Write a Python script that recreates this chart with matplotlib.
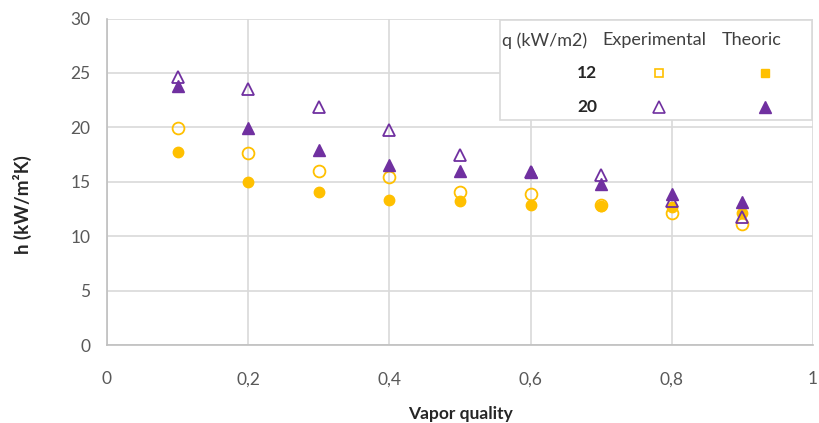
import numpy as np
import matplotlib
matplotlib.use('Agg')
import matplotlib.pyplot as plt
from matplotlib.patches import Rectangle

plt.rcParams['font.family'] = ['Lato', 'DejaVu Sans']

# data
quality = [0.1, 0.2, 0.3, 0.4, 0.5, 0.6, 0.7, 0.8, 0.9]
exp12 = [19.9, 17.6, 16.0, 15.4, 14.1, 13.9, 12.9, 12.1, 11.1]
theo12 = [17.7, 15.0, 14.1, 13.3, 13.2, 12.9, 12.8, 12.7, 12.1]
exp20 = [24.6, 23.5, 21.9, 19.8, 17.5, 15.9, 15.6, 13.2, 11.8]
theo20 = [23.8, 19.9, 17.9, 16.5, 16.0, 15.9, 14.8, 13.9, 13.1]

xticks = [0, 0.2, 0.4, 0.6, 0.8, 1]
xticklabels = ['0', '0,2', '0,4', '0,6', '0,8', '1']
yticks = [0, 5, 10, 15, 20, 25, 30]

orange = '#FFC000'
purple = '#7030A0'
grid_c = '#D9D9D9'
txt_c = '#595959'
dark = '#262626'

fig = plt.figure(figsize=(8.2, 4.23), dpi=100)
ax = fig.add_axes([107/820, 1-345/423, 706/820, (345-18.5)/423])

ax.plot(quality, exp12, linestyle='none', marker='o', markersize=8.5,
        markerfacecolor='none', markeredgecolor=orange, markeredgewidth=1.3, zorder=3)
ax.plot(quality, theo12, linestyle='none', marker='o', markersize=7.5,
        markerfacecolor=orange, markeredgecolor=orange, zorder=3)
ax.plot(quality, exp20, linestyle='none', marker='^', markersize=9,
        markerfacecolor='none', markeredgecolor=purple, markeredgewidth=1.3, zorder=4)
ax.plot(quality, theo20, linestyle='none', marker='^', markersize=9,
        markerfacecolor=purple, markeredgecolor=purple, zorder=4)

ax.set_xlim(0, 1)
ax.set_ylim(0, 30)
ax.set_xticks(xticks)
ax.set_xticklabels(xticklabels)
ax.set_yticks(yticks)
ax.tick_params(length=0, labelsize=12.5, colors=txt_c)
ax.tick_params(axis='x', pad=19)
ax.tick_params(axis='y', pad=12)
ax.grid(True, color=grid_c, linewidth=1.2)
ax.set_axisbelow(True)
for s in ['top', 'right']:
    ax.spines[s].set_visible(False)
for s in ['left', 'bottom']:
    ax.spines[s].set_color('#BFBFBF')
    ax.spines[s].set_linewidth(1.2)

ax.set_xlabel('Vapor quality', fontsize=12.5, fontweight='bold', color=dark)
ax.xaxis.label.set_va('center')
ax.xaxis.set_label_coords(0.5, (345-414)/326.5)
ax.set_ylabel('h (kW/m\u00b2K)', fontsize=13.5, fontweight='bold', color=dark)
ax.yaxis.label.set_va('center')
ax.yaxis.set_label_coords((22-107)/706, (345-205)/326.5)

# legend table in the upper right
ax.add_patch(Rectangle((0.557, 0.69), 0.442, 0.305, transform=ax.transAxes,
                       facecolor='white', edgecolor=grid_c, linewidth=1.2, zorder=5))
head_kw = dict(transform=ax.transAxes, fontsize=13, color='#404040', va='center', zorder=6)
ax.text(0.559, 0.933, 'q (kW/m2)', **head_kw)
ax.text(0.702, 0.933, 'Experimental', **head_kw)
ax.text(0.871, 0.933, 'Theoric', **head_kw)
ax.text(0.694, 0.833, '12', transform=ax.transAxes, fontsize=12.5, fontweight='bold',
        color=dark, va='center', ha='right', zorder=6)
ax.text(0.694, 0.729, '20', transform=ax.transAxes, fontsize=12.5, fontweight='bold',
        color=dark, va='center', ha='right', zorder=6)
ax.plot([0.782], [0.833], transform=ax.transAxes, marker='s', markersize=5.5,
        markerfacecolor='none', markeredgecolor=orange, markeredgewidth=1.2, zorder=6)
ax.plot([0.932], [0.833], transform=ax.transAxes, marker='s', markersize=6,
        markerfacecolor=orange, markeredgecolor=orange, zorder=6)
ax.plot([0.782], [0.729], transform=ax.transAxes, marker='^', markersize=8,
        markerfacecolor='none', markeredgecolor=purple, markeredgewidth=1.2, zorder=6)
ax.plot([0.932], [0.729], transform=ax.transAxes, marker='^', markersize=8,
        markerfacecolor=purple, markeredgecolor=purple, zorder=6)

fig.savefig('out.png', dpi=100)
